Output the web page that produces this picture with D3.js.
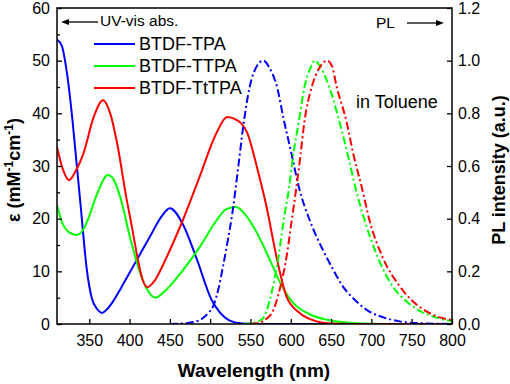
<!DOCTYPE html>
<html>
<head>
<meta charset="utf-8">
<script src="https://cdn.jsdelivr.net/npm/d3@7"></script>
<style>
  body { margin: 0; background: #fff; }
  text { font-family: Arial, "Liberation Sans", sans-serif; }
</style>
</head>
<body>
<svg id="chart" width="510" height="384"></svg>
<script>
// absorption (left axis, mM-1 cm-1)
const absNmTPA = [310, 316, 322, 329, 334, 339, 347, 353, 360, 366, 372, 380, 390, 404, 425, 440, 450, 466, 483, 502, 512, 525, 540, 560, 600, 700, 800];
const absTPA   = [54, 52.8, 48, 39, 31, 23, 10.3, 5, 2.8, 2.1, 2.8, 4.4, 7, 10.8, 16.5, 20.5, 22, 19, 12.5, 4.5, 2.2, 0.6, 0.1, 0, 0, 0, 0];

const absNmTTPA = [310, 317, 325, 334, 342, 348, 360, 373, 380, 389, 401, 414, 422, 432, 446, 466, 487, 508, 520, 532, 545, 558, 574, 587, 603, 624, 645, 680, 720, 800];
const absTTPA   = [22.6, 19, 17.4, 16.9, 17.8, 19.7, 24.8, 28.3, 27.5, 23.8, 16.2, 9.3, 6.5, 5, 6.6, 10.2, 14.6, 19.7, 21.8, 22.2, 20.5, 17.3, 12.2, 7.8, 4, 1.8, 0.8, 0.15, 0, 0];

const absNmTtTPA = [310, 317, 325, 333, 342, 356, 367, 376, 385, 396, 403, 410, 416, 422, 430, 446, 466, 487, 508, 521, 532, 546, 558, 570, 583, 595, 611, 630, 650, 700, 800];
const absTtTPA   = [33.6, 29.5, 27.3, 29, 32, 39.5, 42.5, 40, 34, 24, 18.4, 12.5, 8.5, 7, 8, 12.7, 19.7, 28, 36.3, 39.3, 38.8, 36.3, 29.8, 22.2, 12.2, 5.1, 2.1, 0.6, 0.1, 0, 0];

// photoluminescence (right axis, a.u.)
const plNmTPA = [450, 470, 487, 497, 504, 510, 516, 522, 527, 535, 541, 549, 558, 566, 574, 583, 591, 601, 610, 624, 640, 652, 663, 680, 696, 715, 735, 760, 800];
const plTPA   = [0, 0.003, 0.015, 0.04, 0.07, 0.13, 0.22, 0.32, 0.41, 0.6, 0.75, 0.9, 0.98, 1.0, 0.97, 0.9, 0.78, 0.645, 0.52, 0.39, 0.28, 0.21, 0.15, 0.09, 0.05, 0.025, 0.01, 0.003, 0];

const plNmTTPA = [540, 552, 565, 570, 577, 585, 591, 598, 603, 610, 617, 624, 630, 636, 644, 651, 661, 671, 680, 692, 707, 727, 742, 760, 780, 800];
const plTTPA   = [0, 0.004, 0.02, 0.05, 0.13, 0.26, 0.39, 0.52, 0.64, 0.77, 0.9, 0.97, 1.0, 0.98, 0.93, 0.87, 0.76, 0.64, 0.52, 0.39, 0.26, 0.14, 0.09, 0.05, 0.025, 0.01];

const plNmTtTPA = [550, 560, 570, 578, 587, 595, 601, 607, 612, 617, 626, 635, 645, 651, 657, 669, 678, 688, 698, 713, 736, 750, 770, 785, 800];
const plTtTPA   = [0, 0.004, 0.02, 0.05, 0.14, 0.26, 0.39, 0.52, 0.64, 0.77, 0.9, 0.97, 1.0, 0.98, 0.9, 0.77, 0.64, 0.52, 0.39, 0.26, 0.14, 0.09, 0.045, 0.025, 0.015];

const seriesNames = ["BTDF-TPA", "BTDF-TTPA", "BTDF-TtTPA"];
const seriesColors = ["#0000ff", "#00ff00", "#ff0000"];

const xTicks = [350, 400, 450, 500, 550, 600, 650, 700, 750, 800];
const yTicks = [0, 10, 20, 30, 40, 50, 60];
const yMinorTicks = [5, 15, 25, 35, 45, 55];
const y2Ticks = [0, 0.2, 0.4, 0.6, 0.8, 1.0, 1.2];

const margin = {top: 8, right: 58, bottom: 60, left: 57};
const width = 510 - margin.left - margin.right;
const height = 384 - margin.top - margin.bottom;

const svg = d3.select("#chart");
const g = svg.append("g").attr("transform", `translate(${margin.left},${margin.top})`);

const x = d3.scaleLinear().domain([310, 800]).range([0, width]);
const y = d3.scaleLinear().domain([0, 60]).range([height, 0]);
const y2 = d3.scaleLinear().domain([0, 1.2]).range([height, 0]);

g.append("clipPath").attr("id", "clip")
  .append("rect").attr("width", width).attr("height", height);

const absSeries = [[absNmTPA, absTPA], [absNmTTPA, absTTPA], [absNmTtTPA, absTtTPA]];
const plSeries = [[plNmTPA, plTPA], [plNmTTPA, plTTPA], [plNmTtTPA, plTtTPA]];

const lineAbs = d3.line().x(d => x(d[0])).y(d => y(d[1])).curve(d3.curveMonotoneX);
const linePl = d3.line().x(d => x(d[0])).y(d => y2(d[1])).curve(d3.curveMonotoneX);

const plot = g.append("g").attr("clip-path", "url(#clip)");

absSeries.forEach((s, i) => {
  plot.append("path")
    .datum(s[0].map((w, j) => [w, s[1][j]]))
    .attr("fill", "none")
    .attr("stroke", seriesColors[i])
    .attr("stroke-width", 2)
    .attr("d", lineAbs);
});

plSeries.forEach((s, i) => {
  plot.append("path")
    .datum(s[0].map((w, j) => [w, s[1][j]]))
    .attr("fill", "none")
    .attr("stroke", seriesColors[i])
    .attr("stroke-width", 2)
    .attr("stroke-dasharray", "8,3,2,3")
    .attr("d", linePl);
});

// axes, ticks inward
const xAxis = g.append("g")
  .attr("transform", `translate(0,${height})`)
  .call(d3.axisBottom(x).tickValues(xTicks).tickSizeInner(-5).tickSizeOuter(0).tickPadding(11));

const yAxis = g.append("g")
  .call(d3.axisLeft(y).tickValues(yTicks).tickSizeInner(-5).tickSizeOuter(0).tickPadding(7));

g.append("g")
  .call(d3.axisLeft(y).tickValues(yMinorTicks).tickSizeInner(-3).tickSizeOuter(0).tickFormat(""))
  .select(".domain").remove();

const y2Axis = g.append("g")
  .attr("transform", `translate(${width},0)`)
  .call(d3.axisRight(y2).tickValues(y2Ticks).tickSizeInner(-5).tickSizeOuter(0).tickPadding(6).tickFormat(d3.format(".1f")));

[xAxis, yAxis, y2Axis].forEach(a => {
  a.selectAll("text").attr("font-size", 16).attr("fill", "#000").style("font-family", "Arial, 'Liberation Sans', sans-serif");
  a.select(".domain").remove();
});
g.selectAll(".tick line").attr("stroke", "#000").attr("stroke-width", 1.3);

g.append("rect")
  .attr("width", width).attr("height", height)
  .attr("fill", "none").attr("stroke", "#000").attr("stroke-width", 1.5);

// axis titles
svg.append("text")
  .attr("x", 254).attr("y", 377)
  .attr("text-anchor", "middle")
  .attr("font-size", 19).attr("font-weight", "bold")
  .text("Wavelength (nm)");

const yTitle = svg.append("text")
  .attr("transform", "translate(20,170) rotate(-90)")
  .attr("text-anchor", "middle")
  .attr("font-size", 18).attr("font-weight", "bold");
yTitle.append("tspan").text("ε (mM");
yTitle.append("tspan").attr("font-size", 12).attr("dy", -7).text("-1");
yTitle.append("tspan").attr("dy", 7).text("cm");
yTitle.append("tspan").attr("font-size", 12).attr("dy", -7).text("-1");
yTitle.append("tspan").attr("dy", 7).text(")");

svg.append("text")
  .attr("transform", "translate(505,170) rotate(-90)")
  .attr("text-anchor", "middle")
  .attr("font-size", 18).attr("font-weight", "bold")
  .text("PL intensity (a.u.)");

// legend
seriesNames.forEach((name, i) => {
  const ly = 44 + i * 22;
  svg.append("line")
    .attr("x1", 94).attr("x2", 135).attr("y1", ly).attr("y2", ly)
    .attr("stroke", seriesColors[i]).attr("stroke-width", 2);
  svg.append("text")
    .attr("x", 139).attr("y", ly + 6)
    .attr("font-size", 18)
    .text(name);
});

// annotations
svg.append("line").attr("x1", 98).attr("x2", 66).attr("y1", 22).attr("y2", 22)
  .attr("stroke", "#000").attr("stroke-width", 1.3);
svg.append("path").attr("d", "M61,22 L69,19 L69,25 Z").attr("fill", "#000");
svg.append("text").attr("x", 100).attr("y", 26).attr("font-size", 15.5).text("UV-vis abs.");

svg.append("line").attr("x1", 407).attr("x2", 438).attr("y1", 23).attr("y2", 23)
  .attr("stroke", "#000").attr("stroke-width", 1.3);
svg.append("path").attr("d", "M444,23 L436,20 L436,26 Z").attr("fill", "#000");
svg.append("text").attr("x", 376).attr("y", 28).attr("font-size", 15.5).text("PL");

svg.append("text").attr("x", 356).attr("y", 108).attr("font-size", 18).text("in Toluene");
</script>
</body>
</html>
